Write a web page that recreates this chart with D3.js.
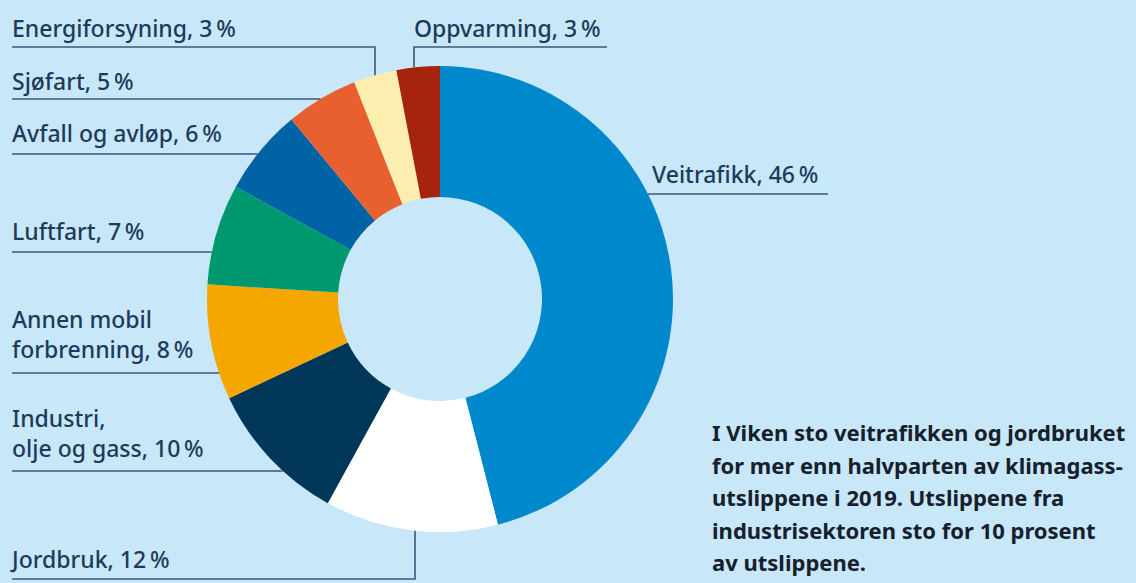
<!DOCTYPE html>
<html>
<head>
<meta charset="utf-8">
<script src="https://cdn.jsdelivr.net/npm/d3@7"></script>
<style>
  body { margin: 0; background: #c8e7f9; }
  svg { display: block; }
  .label { font-family: "Noto Sans", sans-serif; font-size: 23px; font-weight: 500; fill: #1e3a5a; }
  .note { font-family: "Noto Sans", sans-serif; font-size: 22px; font-weight: 700; fill: #15202c; }
  .leader { fill: none; stroke: #3b5878; stroke-width: 1.6; }
</style>
</head>
<body>
<svg id="chart"></svg>
<script>
// Data: share of greenhouse gas emissions, Viken 2019 (clockwise from 12 o'clock)
const categories = ["Veitrafikk", "Jordbruk", "Industri, olje og gass", "Annen mobil forbrenning",
  "Luftfart", "Avfall og avløp", "Sjøfart", "Energiforsyning", "Oppvarming"];
const values = [46, 12, 10, 8, 7, 6, 5, 3, 3];
const colors = ["#0088cc", "#ffffff", "#003759", "#f5a700", "#00986f", "#0063a6", "#e85f30", "#fdeeb0", "#a6230e"];

// Label text lines as printed (thin space before %)
const labelLines = [
  ["Veitrafikk, 46\u2009%"],
  ["Jordbruk, 12\u2009%"],
  ["Industri,", "olje og gass, 10\u2009%"],
  ["Annen mobil", "forbrenning, 8\u2009%"],
  ["Luftfart, 7\u2009%"],
  ["Avfall og avløp, 6\u2009%"],
  ["Sjøfart, 5\u2009%"],
  ["Energiforsyning, 3\u2009%"],
  ["Oppvarming, 3\u2009%"]
];
const noteLines = [
  "I Viken sto veitrafikken og jordbruket",
  "for mer enn halvparten av klimagass-",
  "utslippene i 2019. Utslippene fra",
  "industrisektoren sto for 10 prosent",
  "av utslippene."
];

const width = 1136, height = 583;
const cx = 440, cy = 299;
const outerR = 233, innerR = 102;

const svg = d3.select("#chart")
    .attr("width", width)
    .attr("height", height);

const pie = d3.pie().sort(null).value(d => d.value);
const arc = d3.arc().innerRadius(innerR).outerRadius(outerR);
const data = categories.map((c, i) => ({ name: c, value: values[i], color: colors[i], lines: labelLines[i] }));
const arcs = pie(data);

const g = svg.append("g").attr("transform", `translate(${cx},${cy})`);
g.selectAll("path")
    .data(arcs)
  .enter().append("path")
    .attr("d", arc)
    .attr("fill", d => d.data.color);

// where a horizontal / vertical leader meets the outer edge
const edgeX = (y, side) => side * Math.sqrt(outerR * outerR - (y - cy) * (y - cy)) + cx;
const edgeY = (x, side) => side * Math.sqrt(outerR * outerR - (x - cx) * (x - cx)) + cy;

// label layout: text x, baseline of last line, leader y, leader type
const layout = {
  "Veitrafikk": { x: 652, y: 183, ly: 194, kind: "right", end: 828 },
  "Jordbruk": { x: 12, y: 568, ly: 579, kind: "down", vx: 415 },
  "Industri, olje og gass": { x: 12, y: 457, ly: 471, kind: "left" },
  "Annen mobil forbrenning": { x: 12, y: 358, ly: 373, kind: "left" },
  "Luftfart": { x: 12, y: 240, ly: 252, kind: "left" },
  "Avfall og avløp": { x: 12, y: 142, ly: 154, kind: "left" },
  "Sjøfart": { x: 12, y: 90, ly: 99, kind: "left" },
  "Energiforsyning": { x: 12, y: 37, ly: 47, kind: "up", vx: 375, x0: 12 },
  "Oppvarming": { x: 414, y: 37, ly: 47, kind: "up", vx: 414, x0: 607 }
};

const lineGap = 30;
arcs.forEach(a => {
  const L = layout[a.data.name];
  const n = a.data.lines.length;
  const t = svg.append("text").attr("class", "label");
  a.data.lines.forEach((s, i) => {
    t.append("tspan").attr("x", L.x).attr("y", L.y - (n - 1 - i) * lineGap).text(s);
  });

  let pts;
  if (L.kind === "left") {
    pts = [[12, L.ly], [edgeX(L.ly, -1), L.ly]];
  } else if (L.kind === "right") {
    pts = [[L.end, L.ly], [edgeX(L.ly, 1), L.ly]];
  } else if (L.kind === "up") {
    pts = [[L.x0, L.ly], [L.vx, L.ly], [L.vx, edgeY(L.vx, -1)]];
  } else {
    pts = [[12, L.ly], [L.vx, L.ly], [L.vx, edgeY(L.vx, 1)]];
  }
  svg.append("path").attr("class", "leader").attr("d", d3.line()(pts));
});

// note text
const note = svg.append("text").attr("class", "note");
noteLines.forEach((s, i) => {
  note.append("tspan").attr("x", 712).attr("y", 441 + i * 32.5).text(s);
});
</script>
</body>
</html>
